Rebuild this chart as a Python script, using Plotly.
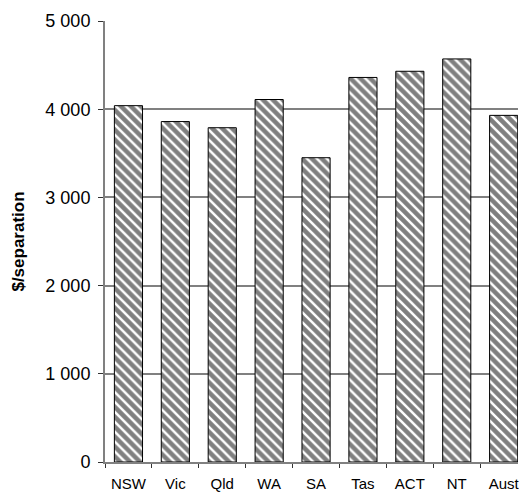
import plotly.graph_objects as go

categories = ["NSW", "Vic", "Qld", "WA", "SA", "Tas", "ACT", "NT", "Aust"]
values = [4040, 3860, 3790, 4110, 3450, 4360, 4430, 4570, 3930]
y_ticks = [0, 1000, 2000, 3000, 4000, 5000]
y_title = "$/separation"

fig = go.Figure(
    go.Bar(
        x=categories,
        y=values,
        width=0.6,
        marker=dict(
            color="white",
            line=dict(color="black", width=1),
            pattern=dict(shape="\\", fgcolor="black", bgcolor="white", size=7, solidity=0.65),
        ),
    )
)

font_family = "Liberation Sans, Arial, sans-serif"

fig.update_layout(
    width=519,
    height=493,
    margin=dict(l=105, r=1, t=21, b=31),
    paper_bgcolor="white",
    plot_bgcolor="white",
    separators=". ",
    showlegend=False,
    font=dict(family=font_family, size=16, color="black"),
    xaxis=dict(
        range=[-0.5, 8.306],
        showline=True,
        linecolor="#808080",
        linewidth=2,
        ticks="outside",
        tickson="boundaries",
        ticklen=4,
        tickcolor="#333333",
        tickwidth=1,
        tickangle=0,
        tickfont=dict(size=15),
        ticklabelstandoff=7,
        showgrid=False,
    ),
    yaxis=dict(
        range=[0, 5000],
        tickvals=y_ticks,
        tickformat=",d",
        showline=True,
        linecolor="#808080",
        linewidth=2,
        ticks="outside",
        ticklen=5,
        tickcolor="#333333",
        tickwidth=1,
        ticklabelstandoff=4,
        showgrid=True,
        gridcolor="#808080",
        gridwidth=1.5,
        zeroline=False,
        tickfont=dict(size=18),
        title=dict(text="<b>" + y_title + "</b>", font=dict(size=17), standoff=16),
    ),
)

fig.write_html(
    "out.html",
    config={"displayModeBar": False},
    post_script="document.body.style.margin='0';document.body.style.overflow='hidden';",
)
